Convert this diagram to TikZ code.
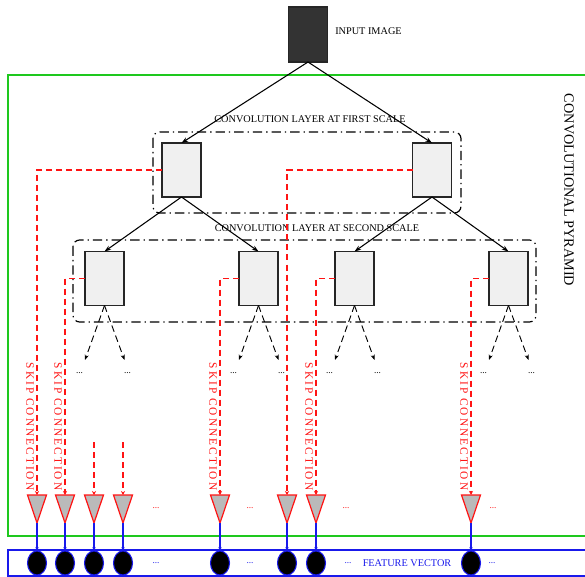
\documentclass[tikz,border=0pt]{standalone}
\usepackage{fontspec}
\setmainfont{Liberation Serif}
\newfontfamily\skipfont[LetterSpace=18]{Liberation Serif}
\usetikzlibrary{shapes.geometric,arrows.meta}
\definecolor{gline}{RGB}{30,200,30}
\definecolor{bline}{RGB}{25,25,235}
\definecolor{rline}{RGB}{255,20,20}
\begin{document}
\begin{tikzpicture}[x=0.75pt,y=-0.75pt,
  box/.style={draw=black!85,line width=1pt,fill=black!6,minimum width=29.25pt,minimum height=40.5pt,inner sep=0pt,outer sep=0pt},
  inbox/.style={box,fill=black!80,minimum height=41.25pt},
  layer/.style={draw=black,line width=0.9pt,rounded corners=5pt,dash pattern=on 7pt off 3pt on 1pt off 3pt},
  conn/.style={line width=0.8pt,-{Stealth[length=5pt,width=3.5pt]}},
  sub/.style={line width=0.7pt,dash pattern=on 5pt off 3pt,-{Stealth[length=4pt,width=3pt]}},
  skip/.style={rline,line width=0.9pt,dash pattern=on 4.5pt off 3pt,-{Stealth[length=3pt,width=3pt]}},
  feed/.style={bline,line width=0.8pt,-{Stealth[length=3pt,width=2.5pt]}},
  lbl/.style={font=\fontsize{7.7}{8}\selectfont,inner sep=0pt},
  skiptxt/.style={text=rline,font=\skipfont\fontsize{8.5}{9}\selectfont,inner sep=0pt,rotate=-90},
  tri/.style={draw=rline,fill=black!27,line width=0.9pt},
  cell/.style={ellipse,draw=bline,fill=black,line width=0.8pt,minimum width=14.25pt,minimum height=18pt,inner sep=0pt,outer sep=0pt},
  dots/.style={font=\fontsize{7}{8}\selectfont,inner sep=0pt}
]
\useasboundingbox (0,0) rectangle (585,577);
\clip (0,0) rectangle (585,577);

% frames
\draw[gline,line width=1.1pt] (8,75) rectangle (600,536);
\draw[bline,line width=1.1pt] (8,550) rectangle (600,576);
\draw[layer] (153,132) rectangle (461,213);
\draw[layer] (73,240) rectangle (536,322);

% boxes
\node[inbox] (in) at (308,34.5) {};
\node[lbl,anchor=west] (intxt) at (335,31) {INPUT IMAGE};
\node[box] (f1) at (181.5,170) {};
\node[box] (f2) at (432,170) {};
\node[box] (s1) at (104.5,278.5) {};
\node[box] (s2) at (258.5,278.5) {};
\node[box] (s3) at (354.5,278.5) {};
\node[box] (s4) at (508.5,278.5) {};

\node[lbl] (l1) at (310,119) {CONVOLUTION LAYER AT FIRST SCALE};
\node[lbl] (l2) at (317,228) {CONVOLUTION LAYER AT SECOND SCALE};
\node[font=\fontsize{10.7}{11}\selectfont,inner sep=0pt,rotate=-90] (pyr) at (569,190) {CONVOLUTIONAL PYRAMID};

% tree
\draw[conn] (in.south) -- (f1.north);
\draw[conn] (in.south) -- (f2.north);
\draw[conn] (f1.south) -- (s1.north);
\draw[conn] (f1.south) -- (s2.north);
\draw[conn] (f2.south) -- (s3.north);
\draw[conn] (f2.south) -- (s4.north);

% sub-branches
\foreach \s/\cx in {s1/104.5,s2/258.5,s3/354.5,s4/508.5}{
  \coordinate (\s l) at (\cx-19.5,360);
  \coordinate (\s r) at (\cx+20,360);
  \draw[sub] (\s.south) -- (\s l);
  \draw[sub] (\s.south) -- (\s r);
  \node[dots] (\s dl) at (\cx-25,373) {...};
  \node[dots] (\s dr) at (\cx+23,373) {...};
}

% triangles and cells
\foreach \i/\x in {1/37,2/65,3/94,4/123,5/220,6/287,7/316,8/471}{
  \coordinate (tt\i) at (\x,495);
  \coordinate (ta\i) at (\x,523);
  \draw[tri] (tt\i) ++(-9.5,0) -- ++(19,0) -- (ta\i) -- cycle;
  \node[cell] (e\i) at (\x,563) {};
  \draw[feed] (ta\i) -- (e\i.north);
}

% skip connections
\draw[skip] (f1.west) -| (tt1);
\draw[skip] (f2.west) -| (tt6);
\draw[skip] (s1.west) -| (tt2);
\draw[skip] (s2.west) -| (tt5);
\draw[skip] (s3.west) -| (tt7);
\draw[skip] (s4.west) -| (tt8);
\coordinate (r3) at (94,442);
\coordinate (r4) at (123,442);
\draw[skip] (r3) -- (tt3);
\draw[skip] (r4) -- (tt4);

\node[skiptxt] (k1) at (30,426.5) {SKIP CONNECTION};
\node[skiptxt] (k2) at (58,426.5) {SKIP CONNECTION};
\node[skiptxt] (k3) at (213,426.5) {SKIP CONNECTION};
\node[skiptxt] (k4) at (309,426.5) {SKIP CONNECTION};
\node[skiptxt] (k5) at (464,426.5) {SKIP CONNECTION};

% dots
\foreach \n/\x in {a/156,b/250,c/346,d/493}{
  \node[dots,text=rline] (rd\n) at (\x,508) {...};
}
\foreach \n/\x in {a/156,b/250,c/348,d/492}{
  \node[dots,text=bline] (bd\n) at (\x,563) {...};
}
\node[lbl,text=bline] (fv) at (407,563) {FEATURE VECTOR};
\end{tikzpicture}
\end{document}
